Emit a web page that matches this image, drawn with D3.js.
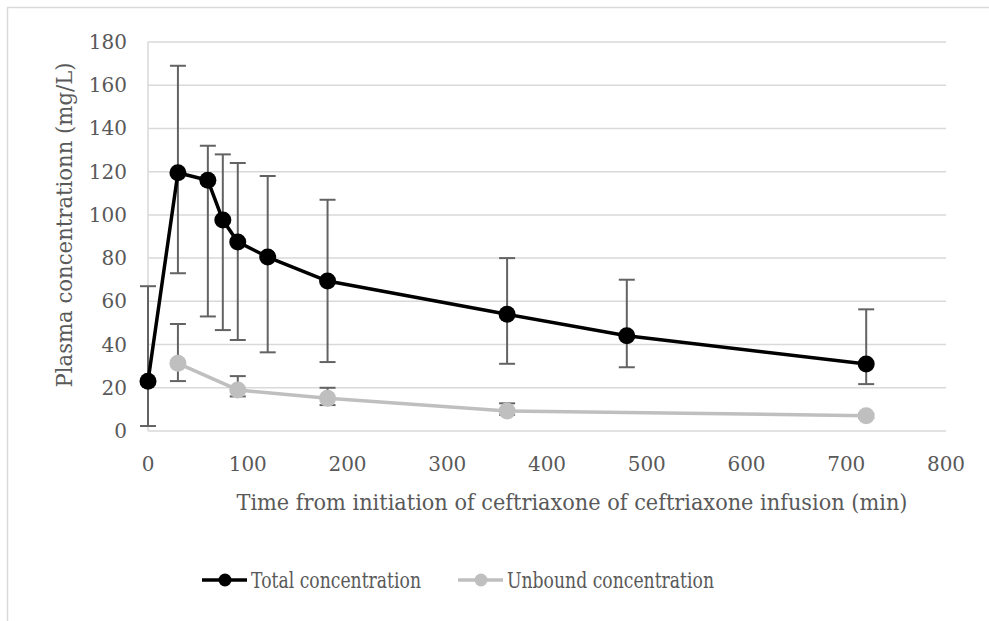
<!DOCTYPE html>
<html>
<head>
<meta charset="utf-8">
<script src="https://cdn.jsdelivr.net/npm/d3@7"></script>
<style>
  body { margin: 0; background: #fff; }
  text { font-family: "DejaVu Serif", "Liberation Serif", serif; fill: #595959; }
</style>
</head>
<body>
<div id="chart"></div>
<script>
// sampling times (min)
var times = [0, 30, 60, 75, 90, 120, 180, 360, 480, 720];
// total ceftriaxone, mean with upper / lower error bar ends
var totalMean = [23, 119.5, 116, 97.6, 87.5, 80.5, 69.4, 54, 44.1, 31];
var totalHigh = [67, 169, 132, 128, 124, 118, 107, 80, 70, 56.3];
var totalLow = [2.3, 73, 53, 46.7, 42.1, 36.4, 31.9, 31.1, 29.5, 21.7];

// unbound ceftriaxone (sampled less often)
var unboundTimes = [30, 90, 180, 360, 720];
var unboundMean = [31.3, 19, 15.1, 9.3, 7.1];
var unboundHigh = [49.5, 25.4, 20, 12.8, 8];
var unboundLow = [23.1, 16, 12, 7.5, 6];

var xTicks = [0, 100, 200, 300, 400, 500, 600, 700, 800];
var yTicks = [0, 20, 40, 60, 80, 100, 120, 140, 160, 180];

var width = 989, height = 621;
var svg = d3.select("#chart").append("svg")
  .attr("width", width)
  .attr("height", height);

// outer frame, runs off the right and bottom edges
svg.append("rect")
  .attr("x", 7.5).attr("y", 7.5)
  .attr("width", 1100).attr("height", 800)
  .attr("fill", "none")
  .attr("stroke", "#d9d9d9")
  .attr("stroke-width", 1.5);

var x = d3.scaleLinear().domain([0, 800]).range([148, 946]);
var y = d3.scaleLinear().domain([0, 180]).range([431, 42]);

// horizontal gridlines
svg.append("g").selectAll("line")
  .data(yTicks)
  .enter().append("line")
  .attr("x1", x(0)).attr("x2", x(800))
  .attr("y1", function (d) { return y(d); })
  .attr("y2", function (d) { return y(d); })
  .attr("stroke", "#d9d9d9")
  .attr("stroke-width", 1.5);

// left axis line
svg.append("line")
  .attr("x1", x(0)).attr("x2", x(0))
  .attr("y1", y(0)).attr("y2", y(180))
  .attr("stroke", "#d9d9d9")
  .attr("stroke-width", 1.5);

// tick labels
svg.append("g").selectAll("text")
  .data(yTicks)
  .enter().append("text")
  .attr("x", 127)
  .attr("y", function (d) { return y(d); })
  .attr("dy", "0.35em")
  .attr("text-anchor", "end")
  .style("font-size", "20px")
  .text(function (d) { return d; });

svg.append("g").selectAll("text")
  .data(xTicks)
  .enter().append("text")
  .attr("x", function (d) { return x(d); })
  .attr("y", 464)
  .attr("dy", "0.35em")
  .attr("text-anchor", "middle")
  .style("font-size", "20px")
  .text(function (d) { return d; });

// axis titles
svg.append("text")
  .attr("x", 572).attr("y", 510)
  .attr("text-anchor", "middle")
  .attr("textLength", 671)
  .attr("lengthAdjust", "spacingAndGlyphs")
  .style("font-size", "22px")
  .text("Time from initiation of ceftriaxone of ceftriaxone infusion (min)");

svg.append("text")
  .attr("transform", "translate(72,225) rotate(-90)")
  .attr("text-anchor", "middle")
  .attr("textLength", 325)
  .attr("lengthAdjust", "spacingAndGlyphs")
  .style("font-size", "22px")
  .text("Plasma concentrationn (mg/L)");

function errorBars(ts, hi, lo) {
  var g = svg.append("g")
    .attr("stroke", "#636363")
    .attr("stroke-width", 2);
  ts.forEach(function (t, i) {
    var cx = x(t);
    g.append("line")
      .attr("x1", cx).attr("x2", cx)
      .attr("y1", y(hi[i])).attr("y2", y(lo[i]));
    [hi[i], lo[i]].forEach(function (v) {
      g.append("line")
        .attr("x1", cx - 8).attr("x2", cx + 8)
        .attr("y1", y(v)).attr("y2", y(v));
    });
  });
}

function series(ts, vals, color) {
  var pts = ts.map(function (t, i) { return [t, vals[i]]; });
  var line = d3.line()
    .x(function (d) { return x(d[0]); })
    .y(function (d) { return y(d[1]); });
  svg.append("path")
    .datum(pts)
    .attr("d", line)
    .attr("fill", "none")
    .attr("stroke", color)
    .attr("stroke-width", 3.5)
    .attr("stroke-linejoin", "round");
  svg.append("g").selectAll("circle")
    .data(pts)
    .enter().append("circle")
    .attr("cx", function (d) { return x(d[0]); })
    .attr("cy", function (d) { return y(d[1]); })
    .attr("r", 8.5)
    .attr("fill", color);
}

errorBars(times, totalHigh, totalLow);
errorBars(unboundTimes, unboundHigh, unboundLow);
series(unboundTimes, unboundMean, "#bfbfbf");
series(times, totalMean, "#000000");

// legend
var legendItems = [
  { name: "Total concentration", color: "#000000", x: 202 },
  { name: "Unbound concentration", color: "#bfbfbf", x: 458 }
];
var lg = svg.append("g").selectAll("g")
  .data(legendItems)
  .enter().append("g");
lg.append("line")
  .attr("x1", function (d) { return d.x; })
  .attr("x2", function (d) { return d.x + 45; })
  .attr("y1", 580).attr("y2", 580)
  .attr("stroke", function (d) { return d.color; })
  .attr("stroke-width", 3.5);
lg.append("circle")
  .attr("cx", function (d) { return d.x + 23; })
  .attr("cy", 580)
  .attr("r", 6.5)
  .attr("fill", function (d) { return d.color; });
var labels = lg.append("text")
  .attr("x", function (d) { return d.x + 49; })
  .attr("y", 580)
  .attr("dy", "0.35em")
  .style("font-size", "22px")
  .text(function (d) { return d.name; });

// squeeze the legend labels to a narrower face, keeping their height
var squeeze = 170 / labels.node().getComputedTextLength();
labels.each(function () {
  var len = this.getComputedTextLength() * squeeze;
  d3.select(this)
    .attr("textLength", len)
    .attr("lengthAdjust", "spacingAndGlyphs");
});
</script>
</body>
</html>
